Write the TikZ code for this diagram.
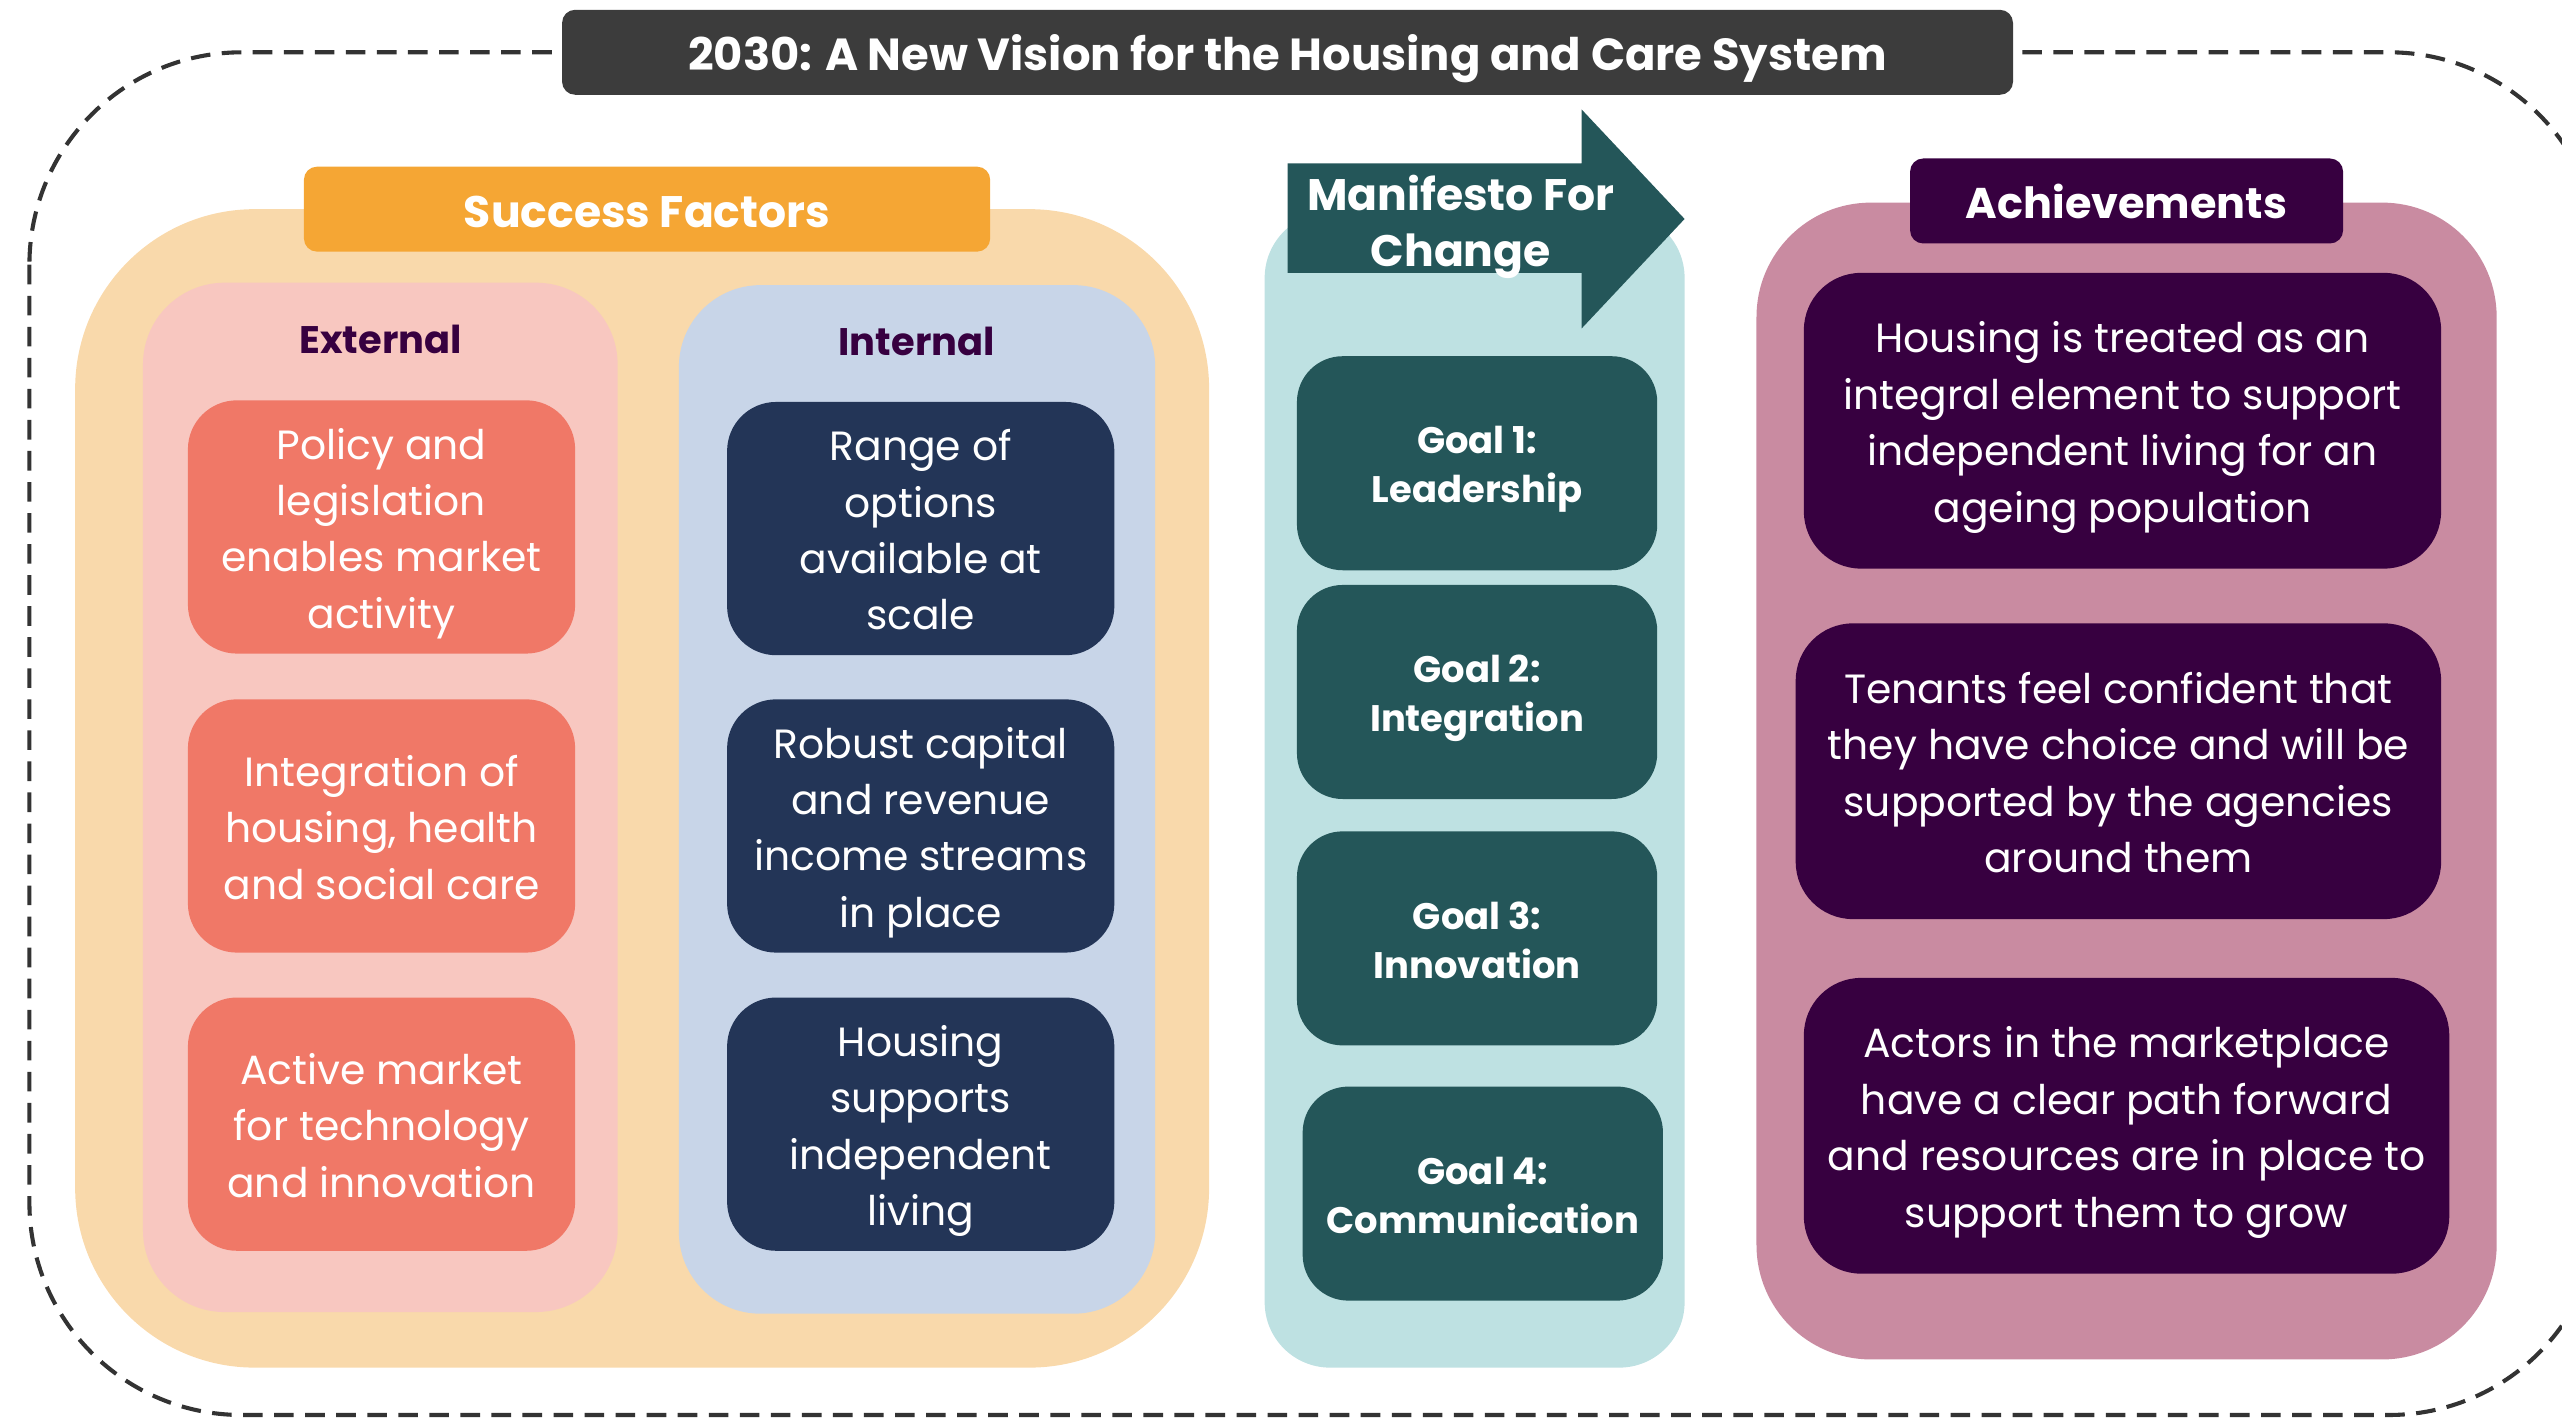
\documentclass[tikz,border=0pt]{standalone}
\usepackage{fontspec}
\setmainfont{Poppins}
\usetikzlibrary{positioning}
\definecolor{titlegray}{HTML}{3C3C3C}
\definecolor{framegray}{HTML}{333333}
\definecolor{peach}{HTML}{F9D9AB}
\definecolor{orangehd}{HTML}{F5A634}
\definecolor{pinkbg}{HTML}{F8C7C0}
\definecolor{salmon}{HTML}{F07867}
\definecolor{bluebg}{HTML}{C8D5E8}
\definecolor{navy}{HTML}{233557}
\definecolor{tealbg}{HTML}{BEE1E2}
\definecolor{tealdk}{HTML}{245659}
\definecolor{mauve}{HTML}{C98BA1}
\definecolor{plum}{HTML}{370040}
\newcommand\bodyfont{\fontsize{25}{34.5}\selectfont}
\newcommand\headfont{\fontsize{27}{34}\selectfont\bfseries}
\newcommand\subfont{\fontsize{23.5}{30}\selectfont\bfseries}
\newcommand\goalfont{\fontsize{22.6}{30}\selectfont\bfseries}
% struts so the text sits like the original
\newcommand\hiStrut{\rule{0pt}{1.1em}}
\newcommand\loStrut{\rule[-0.28em]{0pt}{0.28em}}
\begin{document}
\begin{tikzpicture}[x=1pt,y=-1pt,
    bar/.style={rounded corners=8pt, text=white, font=\headfont, inner sep=0pt, minimum height=52pt},
    card/.style={fill=#1, rounded corners=30pt, text=white, align=center, inner sep=0pt, font=\bodyfont},
    sub/.style={text=plum, font=\subfont, inner sep=0pt},
    goal/.style={fill=tealdk, rounded corners=28pt, text=white, align=center, inner sep=0pt, font=\goalfont, minimum width=220.5pt, minimum height=131pt}]
    \useasboundingbox (0,0) rectangle (1568,868);
    % dashed frame behind the title
    \draw[framegray, line width=2.5pt, dash pattern=on 12pt off 7pt, rounded corners=130pt] (18,32) rectangle (1592,866);
    \node[bar, fill=titlegray, minimum width=888pt, font=\fontsize{27.5}{34}\selectfont\bfseries] (title) at (788,32) {\hiStrut 2030: A New Vision for the Housing and Care System\loStrut};

    % success factors
    \fill[peach, rounded corners=110pt] (46,128) rectangle (740,837);
    \node[bar, fill=orangehd, minimum width=420pt] (succ) at (396,128) {\hiStrut Success Factors\loStrut};
    \fill[pinkbg, rounded corners=50pt] (87.5,173) rectangle (378,803);
    \fill[bluebg, rounded corners=50pt] (415.5,174.5) rectangle (707,804);
    \node[sub] (ext) at (233,207) {\hiStrut External\loStrut};
    \node[sub] (int) at (561,208) {\hiStrut Internal\loStrut};
    \foreach \n/\y/\t in {1/322.5/{Policy and\\legislation\\enables market\\activity}, 2/505.5/{Integration of\\housing, health\\and social care}, 3/688/{Active market\\for technology\\and innovation}}
        \node[card=salmon, minimum width=237pt, minimum height=155pt] (ext\n) at (233.5,\y) {\hiStrut\t\loStrut};
    \foreach \n/\y/\t in {1/323.5/{Range of\\options\\available at\\scale}, 2/505.5/{Robust capital\\and revenue\\income streams\\in place}, 3/688/{Housing\\supports\\independent\\living}}
        \node[card=navy, minimum width=237pt, minimum height=155pt] (int\n) at (563.5,\y) {\hiStrut\t\loStrut};

    % manifesto
    \fill[tealbg, rounded corners=40pt] (774,130) rectangle (1031,837);
    \fill[tealdk] (788,100) -- (968,100) -- (968,67) -- (1031,134) -- (968,201) -- (968,167) -- (788,167) -- cycle;
    \node[text=white, align=center, font=\headfont, inner sep=0pt] (mani) at (894,135) {\hiStrut Manifesto For\\Change\loStrut};
    \foreach \n/\x/\y/\t in {1/904/283.5/Leadership, 2/904/423.5/Integration, 3/904/574.3/Innovation, 4/907.5/730.5/Communication}
        \node[goal] (goal\n) at (\x,\y) {\hiStrut Goal \n:\\\t\loStrut};

    % achievements
    \fill[mauve, rounded corners=70pt] (1075,124) rectangle (1528,832);
    \node[bar, fill=plum, minimum width=265pt, font=\fontsize{26.3}{34}\selectfont\bfseries] (ach) at (1301.5,123) {\hiStrut Achievements\loStrut};
    \node[card=plum, rounded corners=35pt, minimum width=390pt, minimum height=181pt] (ach1) at (1299,257.5) {\hiStrut Housing is treated as an\\integral element to support\\independent living for an\\ageing population\loStrut};
    \node[card=plum, rounded corners=35pt, minimum width=395pt, minimum height=181pt] (ach2) at (1296.5,472) {\hiStrut Tenants feel confident that\\they have choice and will be\\supported by the agencies\\around them\loStrut};
    \node[card=plum, rounded corners=35pt, minimum width=395pt, minimum height=181pt] (ach3) at (1301.5,689) {\hiStrut Actors in the marketplace\\have a clear path forward\\and resources are in place to\\support them to grow\loStrut};
\end{tikzpicture}
\end{document}
